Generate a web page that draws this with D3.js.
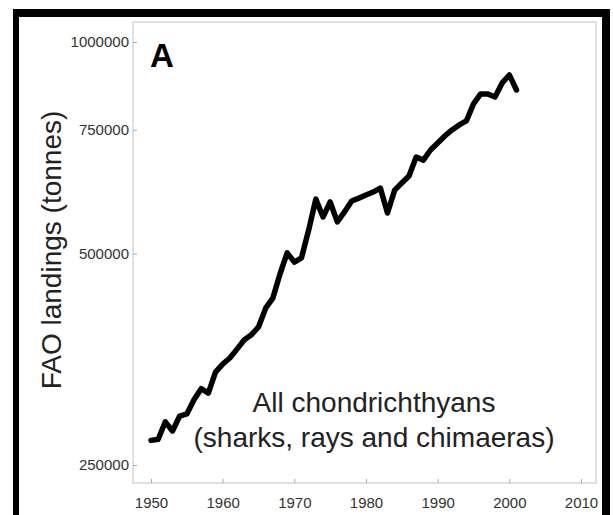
<!DOCTYPE html>
<html>
<head>
<meta charset="utf-8">
<script src="https://cdn.jsdelivr.net/npm/d3@7.9.0/dist/d3.min.js"></script>
<style>
  body { margin: 0; background: #fff; }
  svg { display: block; font-family: "Liberation Sans", Arial, sans-serif; }
</style>
</head>
<body>
<svg width="613" height="515"></svg>
<script>
// FAO landings of all chondrichthyans, tonnes per year
const years = d3.range(1950, 2002);
const landings = [
  271000, 272000, 288000, 279500, 293500, 295500, 309500, 321000, 316500, 339000,
  348000, 355000, 365500, 376500, 383000, 393000, 418000, 432000, 467500, 501000,
  486000, 493000, 540000, 597500, 563500, 592000, 554500, 573000, 594000, 599500,
  605500, 611500, 619500, 571000, 615500, 630000, 644500, 686000, 679000, 702000,
  718000, 735000, 749500, 762000, 772000, 816500, 843500, 843500, 835000, 874500,
  897500, 854500
];
const yTicks = [250000, 500000, 750000, 1000000];
const xTicks = [1950, 1960, 1970, 1980, 1990, 2000, 2010];
const panelLabel = "A";
const yTitle = "FAO landings (tonnes)";
const noteLines = ["All chondrichthyans", "(sharks, rays and chimaeras)"];

let data = years.map((y, i) => ({ year: y, value: landings[i] }));

let svg = d3.select('svg');

// plot box
const box = { left: 133, right: 596, top: 22, bottom: 483 };

let x = d3.scaleLinear().domain([1950, 2010]).range([151, 581]);
let y = d3.scaleLog().domain([250000, 1000000]).range([465, 42]);

// black frame round the panel (bottom edge is cropped)
svg.append('rect').attr('x', 13).attr('y', 9).attr('width', 597).attr('height', 8).attr('fill', '#000');
svg.append('rect').attr('x', 13).attr('y', 9).attr('width', 6).attr('height', 506).attr('fill', '#000');
svg.append('rect').attr('x', 602).attr('y', 9).attr('width', 8).attr('height', 506).attr('fill', '#000');

// light plot border
svg.append('rect')
  .attr('x', box.left).attr('y', box.top)
  .attr('width', box.right - box.left).attr('height', box.bottom - box.top)
  .attr('fill', 'none').attr('stroke', '#c4c4c4').attr('stroke-width', 1);

// axes
let xAxis = svg.append('g')
  .attr('transform', `translate(0,${box.bottom})`)
  .call(d3.axisBottom(x).tickValues(xTicks).tickFormat(d3.format('d')).tickSize(-4).tickPadding(14));

let yAxis = svg.append('g')
  .attr('transform', `translate(${box.left},0)`)
  .call(d3.axisLeft(y).tickValues(yTicks).tickFormat(d3.format('d')).tickSize(-4).tickPadding(4));

[xAxis, yAxis].forEach(g => {
  g.select('.domain').remove();
  g.selectAll('line').attr('stroke', '#aaa');
  g.selectAll('text')
    .attr('fill', '#333')
    .style('font-size', '15px')
    .style('font-family', '"Liberation Sans", Arial, sans-serif');
});

// the series
let line = d3.line()
  .x(d => x(d.year))
  .y(d => y(d.value));

svg.append('path')
  .datum(data)
  .attr('d', line)
  .attr('fill', 'none')
  .attr('stroke', '#000')
  .attr('stroke-width', 5.5)
  .attr('stroke-linejoin', 'round')
  .attr('stroke-linecap', 'round');

// panel letter
svg.append('text')
  .attr('x', 150).attr('y', 67)
  .attr('font-size', 33).attr('font-weight', 'bold')
  .attr('fill', '#000')
  .text(panelLabel);

// y axis title
svg.append('text')
  .attr('transform', 'translate(61,250) rotate(-90)')
  .attr('text-anchor', 'middle')
  .attr('font-size', 28)
  .attr('fill', '#222')
  .text(yTitle);

// note inside the plot
svg.selectAll('.note')
  .data(noteLines)
  .enter()
  .append('text')
  .attr('class', 'note')
  .attr('x', 374)
  .attr('y', (d, i) => 412 + i * 35)
  .attr('text-anchor', 'middle')
  .attr('font-size', 28)
  .attr('fill', '#222')
  .text(d => d);
</script>
</body>
</html>
